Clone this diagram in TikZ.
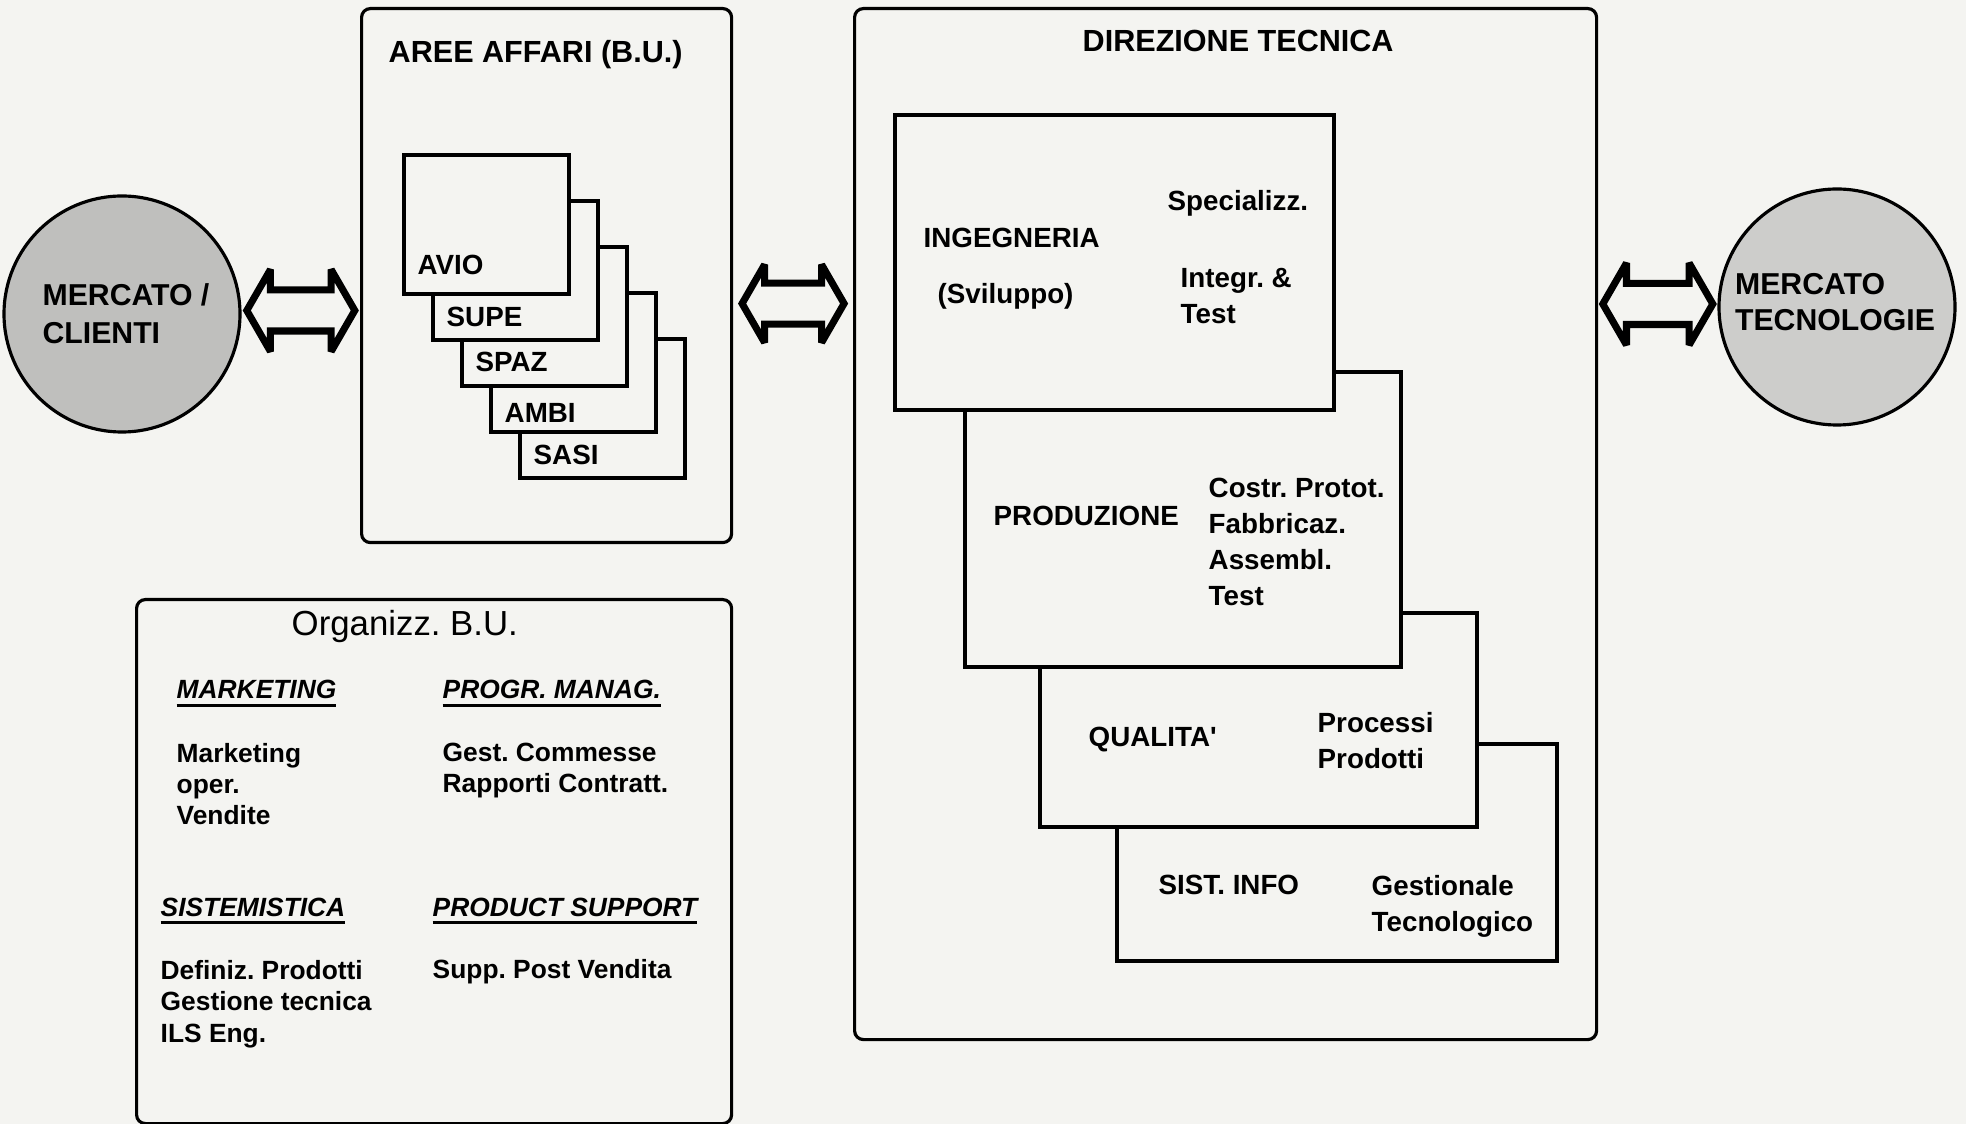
\documentclass[tikz,border=0pt]{standalone}
\usepackage{fontspec}
\setmainfont{Liberation Sans}
\usetikzlibrary{shapes.arrows, positioning, calc}
\definecolor{PaperBg}{HTML}{F4F4F1}
\definecolor{CliGray}{HTML}{BFBFBD}
\definecolor{TecGray}{HTML}{CDCDCB}
\newcommand{\headul}[1]{\vtop{\hbox{#1}\kern1.4pt\hrule height 0.8pt}}
\frenchspacing

\begin{document}
\begin{tikzpicture}[
        every node/.style={inner sep=0pt},
        frame/.style={draw, line width=0.9pt, rounded corners=2.5pt, fill=PaperBg, anchor=north west},
        unit/.style={draw, line width=1.1pt, fill=PaperBg, anchor=north west},
        bu/.style={unit, minimum width=1.65cm, minimum height=1.39cm},
        market/.style={circle, draw, line width=0.9pt, minimum size=2.36cm},
        biarrow/.style={double arrow, draw, line width=2pt, miter limit=2, fill=PaperBg, inner xsep=0pt, inner ysep=0.17cm, minimum width=0.75cm, double arrow head extend=0.205cm, double arrow tip angle=120},
        ttl/.style={anchor=base west, font=\fontsize{8.7}{10}\selectfont\bfseries},
        mk/.style={align=left, font=\fontsize{8.6}{10.8}\selectfont\bfseries},
        nm/.style={anchor=base west, align=left, font=\fontsize{7.9}{10.3}\selectfont\bfseries},
        og/.style={anchor=base west, align=left, font=\fontsize{7.5}{8.9}\selectfont\bfseries},
        oghead/.style={anchor=base west, font=\fontsize{7.5}{9}\selectfont\bfseries\itshape}
    ]
        \useasboundingbox (0,0) rectangle (19.66,-11.24);
        \fill[PaperBg] (0,0) rectangle (19.66,-11.24);

        % markets
        \node[market, fill=CliGray] (cli) at (1.22,-3.14) {};
        \node[mk] (cliT) at ([xshift=0.04cm]cli.center) {MERCATO /\\CLIENTI};
        \node[market, fill=TecGray] (tec) at (18.37,-3.07) {};
        \node[mk, font=\fontsize{8.6}{10.3}\selectfont\bfseries] (tecT) at ([xshift=-0.02cm,yshift=0.05cm]tec.center) {MERCATO\\TECNOLOGIE};

        % business units
        \node[frame, minimum width=3.70cm, minimum height=5.34cm] (aree) at (3.60,-0.07) {};
        \node[ttl] (areeT) at (3.88,-0.63) {AREE AFFARI (B.U.)};
        \node[bu] (sasi) at (5.18,-3.37) {};
        \node[bu] (ambi) at (4.89,-2.91) {};
        \node[bu] (spaz) at (4.60,-2.45) {};
        \node[bu] (supe) at (4.31,-1.99) {};
        \node[bu] (avio) at (4.02,-1.53) {};
        \node[nm] (avioT) at ($(avio.south west)+(0.15,0.21)$) {AVIO};
        \node[nm] (supeT) at ($(supe.south west)+(0.15,0.15)$) {SUPE};
        \node[nm] (spazT) at ($(spaz.south west)+(0.15,0.16)$) {SPAZ};
        \node[nm] (ambiT) at ($(ambi.south west)+(0.15,0.11)$) {AMBI};
        \node[nm] (sasiT) at ($(sasi.south west)+(0.15,0.15)$) {SASI};

        % direzione tecnica
        \node[frame, minimum width=7.42cm, minimum height=10.31cm] (dir) at (8.53,-0.07) {};
        \node[ttl] (dirT) at (10.82,-0.52) {DIREZIONE TECNICA};
        \node[unit, minimum width=4.40cm, minimum height=2.17cm] (sist) at (11.15,-7.42) {};
        \node[unit, minimum width=4.37cm, minimum height=2.14cm] (qual) at (10.38,-6.11) {};
        \node[unit, minimum width=4.36cm, minimum height=2.95cm] (prod) at (9.63,-3.70) {};
        \node[unit, minimum width=4.39cm, minimum height=2.95cm] (ing) at (8.93,-1.13) {};
        \node[nm] (ingT) at (9.23,-2.48) {INGEGNERIA};
        \node[nm] (ingS) at (9.37,-3.04) {(Sviluppo)};
        \node[nm] (ingA) at (11.67,-2.11) {Specializz.};
        \node[nm] (ingB) at (11.80,-3.24) {Integr. \&\\Test};
        \node[nm] (prodT) at (9.93,-5.26) {PRODUZIONE};
        \node[nm] (prodA) at (12.08,-6.06) {Costr. Protot.\\Fabbricaz.\\Assembl.\\Test};
        \node[nm] (qualT) at (10.88,-7.47) {QUALITA\textquotesingle};
        \node[nm, font=\fontsize{7.9}{10.5}\selectfont\bfseries] (qualA) at (13.17,-7.69) {Processi\\Prodotti};
        \node[nm] (sistT) at (11.58,-8.95) {SIST. INFO};
        \node[nm, font=\fontsize{7.9}{10.5}\selectfont\bfseries] (sistA) at (13.71,-9.32) {Gestionale\\Tecnologico};

        % organizzazione
        \node[frame, minimum width=5.95cm, minimum height=5.24cm] (org) at (1.35,-5.98) {};
        \node[anchor=base west, font=\fontsize{9.9}{12}\selectfont] (orgT) at (2.91,-6.36) {Organizz. B.U.};
        \node[oghead] (mktH) at (1.76,-6.99) {\headul{MARKETING}};
        \node[oghead] (pmH) at (4.42,-6.99) {\headul{PROGR. MANAG.}};
        \node[og] (mktL) at (1.76,-8.25) {Marketing\\oper.\\Vendite};
        \node[og] (pmL) at (4.42,-7.93) {Gest. Commesse\\Rapporti Contratt.};
        \node[oghead] (sysH) at (1.60,-9.16) {\headul{SISTEMISTICA}};
        \node[oghead] (psH) at (4.32,-9.16) {\headul{PRODUCT SUPPORT}};
        \node[og] (sysL) at (1.60,-10.42) {Definiz. Prodotti\\Gestione tecnica\\ILS Eng.};
        \node[og] (psL) at (4.32,-9.78) {Supp. Post Vendita};

        % exchanges
        \coordinate (cliR) at ([yshift=0.035cm]cli.east);
        \coordinate (areeR) at ([yshift=-0.28cm]aree.east);
        \coordinate (tecL) at ([yshift=0.03cm]tec.west);
        \path (cliR) -- node[biarrow, minimum height=1.08cm] (arrCli) {} (cliR -| aree.west);
        \path (areeR) -- node[biarrow, minimum height=1.02cm, minimum width=0.71cm, double arrow head extend=0.185cm] (arrDir) {} (areeR -| dir.west);
        \path (tecL -| dir.east) -- node[biarrow, minimum height=1.10cm] (arrTec) {} (tecL);
    \end{tikzpicture}
\end{document}
